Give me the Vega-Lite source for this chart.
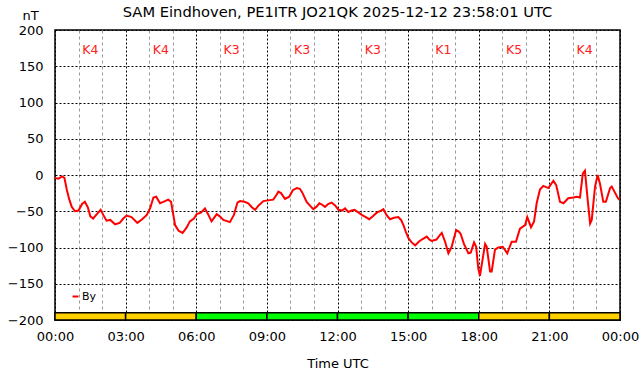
{
  "$schema": "https://vega.github.io/schema/vega-lite/v6.json",
  "autosize": "none",
  "width": 565,
  "height": 290,
  "padding": {"left": 55, "top": 30, "right": 22, "bottom": 56},
  "background": "white",
  "config": {
    "font": "DejaVu Sans",
    "view": {"stroke": "black", "strokeWidth": 1.5}
  },
  "title": {
    "text": "SAM Eindhoven, PE1ITR JO21QK 2025-12-12 23:58:01 UTC",
    "anchor": "middle",
    "frame": "group",
    "fontSize": 14.7,
    "fontWeight": "normal",
    "color": "black",
    "font": "DejaVu Sans",
    "offset": -11
  },
  "datasets": {
    "k": [
      {"start": 0, "end": 3, "mid": 1.5, "k": 4, "label": "K4"},
      {"start": 3, "end": 6, "mid": 4.5, "k": 4, "label": "K4"},
      {"start": 6, "end": 9, "mid": 7.5, "k": 3, "label": "K3"},
      {"start": 9, "end": 12, "mid": 10.5, "k": 3, "label": "K3"},
      {"start": 12, "end": 15, "mid": 13.5, "k": 3, "label": "K3"},
      {"start": 15, "end": 18, "mid": 16.5, "k": 1, "label": "K1"},
      {"start": 18, "end": 21, "mid": 19.5, "k": 5, "label": "K5"},
      {"start": 21, "end": 24, "mid": 22.5, "k": 4, "label": "K4"}
    ],
    "by": [
      {"t": 0.0, "v": -4}, {"t": 0.15, "v": -5}, {"t": 0.3, "v": -2}, {"t": 0.4, "v": -4},
      {"t": 0.5, "v": -20}, {"t": 0.6, "v": -33}, {"t": 0.71, "v": -44}, {"t": 0.85, "v": -50},
      {"t": 1.0, "v": -49}, {"t": 1.15, "v": -40}, {"t": 1.27, "v": -37}, {"t": 1.4, "v": -45},
      {"t": 1.5, "v": -57}, {"t": 1.62, "v": -60}, {"t": 1.75, "v": -55}, {"t": 1.94, "v": -48},
      {"t": 2.05, "v": -55}, {"t": 2.19, "v": -63}, {"t": 2.35, "v": -62}, {"t": 2.55, "v": -68},
      {"t": 2.75, "v": -66}, {"t": 2.9, "v": -60}, {"t": 3.04, "v": -56}, {"t": 3.25, "v": -58},
      {"t": 3.5, "v": -66}, {"t": 3.7, "v": -61}, {"t": 3.9, "v": -55}, {"t": 4.05, "v": -45},
      {"t": 4.18, "v": -31}, {"t": 4.3, "v": -30}, {"t": 4.46, "v": -39}, {"t": 4.6, "v": -37},
      {"t": 4.81, "v": -34}, {"t": 4.93, "v": -37}, {"t": 5.1, "v": -69}, {"t": 5.25, "v": -77},
      {"t": 5.42, "v": -80}, {"t": 5.6, "v": -72}, {"t": 5.73, "v": -64}, {"t": 5.9, "v": -60},
      {"t": 6.02, "v": -54}, {"t": 6.2, "v": -52}, {"t": 6.37, "v": -46}, {"t": 6.5, "v": -54},
      {"t": 6.65, "v": -64}, {"t": 6.87, "v": -54}, {"t": 7.0, "v": -57}, {"t": 7.15, "v": -62},
      {"t": 7.43, "v": -65}, {"t": 7.6, "v": -55}, {"t": 7.75, "v": -38}, {"t": 7.86, "v": -36},
      {"t": 8.05, "v": -37}, {"t": 8.21, "v": -39}, {"t": 8.35, "v": -44}, {"t": 8.5, "v": -48},
      {"t": 8.65, "v": -42}, {"t": 8.85, "v": -36}, {"t": 9.05, "v": -35}, {"t": 9.27, "v": -34},
      {"t": 9.4, "v": -28}, {"t": 9.49, "v": -23}, {"t": 9.6, "v": -25}, {"t": 9.77, "v": -33},
      {"t": 9.95, "v": -30}, {"t": 10.1, "v": -21}, {"t": 10.27, "v": -18}, {"t": 10.4, "v": -19},
      {"t": 10.5, "v": -24}, {"t": 10.69, "v": -37}, {"t": 10.85, "v": -43}, {"t": 10.97, "v": -47},
      {"t": 11.1, "v": -44}, {"t": 11.23, "v": -39}, {"t": 11.35, "v": -41}, {"t": 11.47, "v": -44},
      {"t": 11.6, "v": -40}, {"t": 11.75, "v": -38}, {"t": 11.9, "v": -42}, {"t": 12.04, "v": -48},
      {"t": 12.2, "v": -49}, {"t": 12.32, "v": -46}, {"t": 12.46, "v": -51}, {"t": 12.6, "v": -49},
      {"t": 12.72, "v": -48}, {"t": 12.9, "v": -52}, {"t": 13.03, "v": -55}, {"t": 13.2, "v": -58},
      {"t": 13.35, "v": -61}, {"t": 13.5, "v": -57}, {"t": 13.67, "v": -52}, {"t": 13.85, "v": -49},
      {"t": 13.95, "v": -47}, {"t": 14.08, "v": -55}, {"t": 14.23, "v": -61}, {"t": 14.4, "v": -59},
      {"t": 14.58, "v": -58}, {"t": 14.7, "v": -62}, {"t": 14.8, "v": -69}, {"t": 14.9, "v": -78},
      {"t": 15.01, "v": -87}, {"t": 15.15, "v": -93}, {"t": 15.3, "v": -97}, {"t": 15.45, "v": -92},
      {"t": 15.58, "v": -89}, {"t": 15.79, "v": -85}, {"t": 15.9, "v": -89}, {"t": 16.0, "v": -91},
      {"t": 16.2, "v": -89}, {"t": 16.35, "v": -83}, {"t": 16.43, "v": -80}, {"t": 16.57, "v": -92},
      {"t": 16.71, "v": -108}, {"t": 16.85, "v": -99}, {"t": 17.04, "v": -76}, {"t": 17.15, "v": -78},
      {"t": 17.23, "v": -81}, {"t": 17.37, "v": -95}, {"t": 17.56, "v": -108}, {"t": 17.66, "v": -107},
      {"t": 17.8, "v": -93}, {"t": 17.89, "v": -99}, {"t": 17.98, "v": -129}, {"t": 18.05, "v": -139},
      {"t": 18.17, "v": -115}, {"t": 18.27, "v": -95}, {"t": 18.34, "v": -99}, {"t": 18.48, "v": -133},
      {"t": 18.55, "v": -133}, {"t": 18.69, "v": -103}, {"t": 18.83, "v": -100}, {"t": 19.02, "v": -99},
      {"t": 19.21, "v": -108}, {"t": 19.4, "v": -92}, {"t": 19.58, "v": -92}, {"t": 19.75, "v": -74},
      {"t": 19.97, "v": -69}, {"t": 20.06, "v": -58}, {"t": 20.22, "v": -72}, {"t": 20.35, "v": -64},
      {"t": 20.46, "v": -39}, {"t": 20.6, "v": -20}, {"t": 20.74, "v": -15}, {"t": 20.96, "v": -18},
      {"t": 21.17, "v": -8}, {"t": 21.29, "v": -14}, {"t": 21.45, "v": -37}, {"t": 21.6, "v": -39},
      {"t": 21.8, "v": -32}, {"t": 22.02, "v": -31}, {"t": 22.16, "v": -30}, {"t": 22.3, "v": -31},
      {"t": 22.42, "v": 2}, {"t": 22.51, "v": 6}, {"t": 22.63, "v": -35}, {"t": 22.73, "v": -67},
      {"t": 22.8, "v": -62}, {"t": 22.94, "v": -16}, {"t": 23.05, "v": 0}, {"t": 23.15, "v": -12},
      {"t": 23.29, "v": -37}, {"t": 23.4, "v": -37}, {"t": 23.58, "v": -18}, {"t": 23.65, "v": -16},
      {"t": 23.91, "v": -32}, {"t": 23.98, "v": -34}
    ]
  },
  "encoding": {
    "x": {
      "type": "quantitative",
      "scale": {"domain": [0, 24], "nice": false, "zero": false},
      "axis": {
        "title": "Time UTC",
        "titleFontSize": 13,
        "titleFontWeight": "normal",
        "titleColor": "black",
        "titlePadding": 14,
        "values": [0,1,2,3,4,5,6,7,8,9,10,11,12,13,14,15,16,17,18,19,20,21,22,23,24],
        "labelExpr": "datum.value % 3 === 0 ? ((datum.value % 24) < 10 ? '0' : '') + (datum.value % 24) + ':00' : ''",
        "labelFontSize": 13,
        "labelColor": "black",
        "labelPadding": 10,
        "labelFlush": false,
        "labelOverlap": false,
        "ticks": false,
        "domain": false,
        "grid": true,
        "gridColor": {"condition": {"test": "datum.value % 3 === 0", "value": "black"}, "value": "#999999"},
        "gridDash": {"condition": {"test": "datum.value % 3 === 0", "value": [2, 2]}, "value": [3, 3]},
        "gridWidth": 1,
        "gridOpacity": 1
      }
    },
    "y": {
      "type": "quantitative",
      "scale": {"domain": [-200, 200], "nice": false, "zero": false},
      "axis": {
        "title": "nT",
        "titleAngle": 0,
        "titleAlign": "center",
        "titleBaseline": "middle",
        "titleX": -25,
        "titleY": -15,
        "titleFontSize": 13,
        "titleFontWeight": "normal",
        "titleColor": "black",
        "values": [-200, -150, -100, -50, 0, 50, 100, 150, 200],
        "labelFontSize": 13,
        "labelColor": "black",
        "labelPadding": 12,
        "labelFlush": false,
        "ticks": false,
        "domain": false,
        "grid": true,
        "gridColor": "black",
        "gridDash": [2, 2],
        "gridOpacity": 1
      }
    }
  },
  "layer": [
    {
      "data": {"name": "k"},
      "mark": {"type": "rect", "stroke": "black", "strokeWidth": 1.5},
      "encoding": {
        "x": {"field": "start"},
        "x2": {"field": "end"},
        "y": {"datum": -200},
        "y2": {"datum": -190},
        "fill": {"condition": {"test": "datum.k >= 4", "value": "#ffd000"}, "value": "#00ff00"}
      }
    },
    {
      "data": {"name": "k"},
      "mark": {"type": "text", "color": "#ff2020", "fontSize": 12.5, "baseline": "middle", "align": "center", "font": "DejaVu Sans"},
      "encoding": {
        "x": {"field": "mid"},
        "y": {"datum": 173},
        "text": {"field": "label"}
      }
    },
    {
      "data": {"name": "by"},
      "mark": {"type": "line", "strokeWidth": 2, "interpolate": "linear"},
      "encoding": {
        "x": {"field": "t"},
        "y": {"field": "v"},
        "color": {
          "datum": "By",
          "scale": {"range": ["#ff0000"]},
          "legend": {
            "title": null,
            "orient": "none",
            "legendX": 15,
            "legendY": 261,
            "symbolType": "stroke",
            "symbolSize": 36,
            "symbolStrokeWidth": 2,
            "labelFontSize": 11,
            "labelColor": "black",
            "labelOffset": 1,
            "padding": 0
          }
        }
      }
    }
  ]
}
